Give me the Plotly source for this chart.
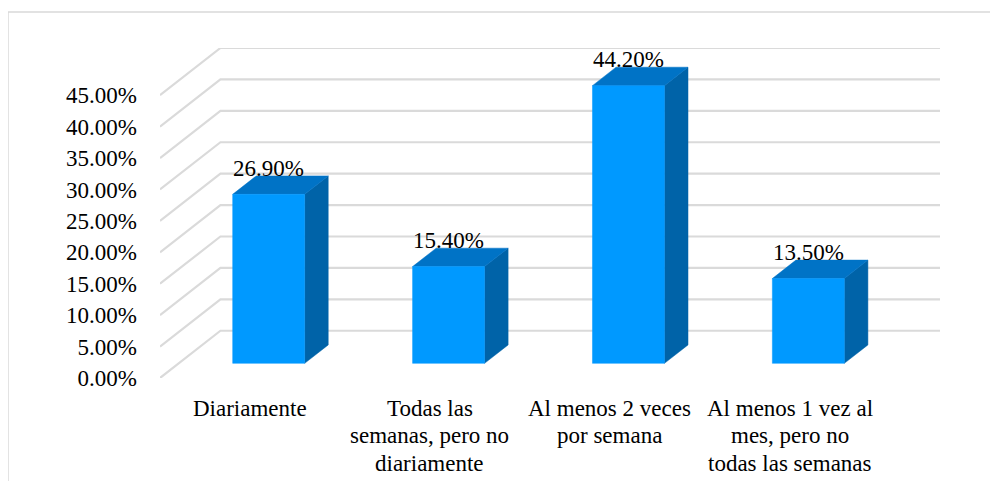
import plotly.graph_objects as go

# ---- data ----
category_lines = [
    ["Diariamente"],
    ["Todas las", "semanas, pero no", "diariamente"],
    ["Al menos 2 veces", "por semana"],
    ["Al menos 1 vez al", "mes, pero no", "todas las semanas"],
]
values = [26.9, 15.4, 44.2, 13.5]
value_labels = ["26.90%", "15.40%", "44.20%", "13.50%"]
y_ticks = [0, 5, 10, 15, 20, 25, 30, 35, 40, 45]
y_tick_labels = ["0.00%", "5.00%", "10.00%", "15.00%", "20.00%",
                 "25.00%", "30.00%", "35.00%", "40.00%", "45.00%"]

# ---- pseudo-3D geometry (data units) ----
DX = 0.336      # depth offset along x (category units)
DY = 7.52       # depth offset along y (percent units)
D0, D1 = 0.31, 0.70   # bar depth span
HALF_W = 0.20
X_MIN, X_MAX = -0.5, len(category_lines) - 0.5
Y_MAX = max(y_ticks)

FRONT = "#0099FF"
TOP = "#0073C6"
SIDE = "#0063A8"
GRID = "#DADADA"
FONT = "Liberation Serif"
FS = 23
LABEL_TOP = 30      # px below plot bottom to first category line centre
LINE_STEP = 27.5    # px between category label lines


def proj(x, y, d):
    return x + d * DX, y + d * DY


fig = go.Figure()

# gridlines (side wall diagonal + back wall)
gx, gy = [], []
for t in y_ticks:
    for (x, y, d) in [(X_MIN, t, 0), (X_MIN, t, 1), (X_MAX, t, 1)]:
        px, py = proj(x, y, d)
        gx.append(px)
        gy.append(py)
    gx.append(None)
    gy.append(None)
fig.add_trace(go.Scatter(x=gx, y=gy, mode="lines",
                         line=dict(color=GRID, width=2.2),
                         hoverinfo="skip", showlegend=False))


def face_trace(polys, color):
    xs, ys = [], []
    for poly in polys:
        for (x, y, d) in poly + [poly[0]]:
            px, py = proj(x, y, d)
            xs.append(px)
            ys.append(py)
        xs.append(None)
        ys.append(None)
    return go.Scatter(x=xs, y=ys, mode="lines", fill="toself",
                      fillcolor=color, line=dict(color=color, width=0.5),
                      hoverinfo="skip", showlegend=False)


fronts, tops, sides = [], [], []
for i, v in enumerate(values):
    xl, xr = i - HALF_W, i + HALF_W
    fronts.append([(xl, 0, D0), (xr, 0, D0), (xr, v, D0), (xl, v, D0)])
    tops.append([(xl, v, D0), (xr, v, D0), (xr, v, D1), (xl, v, D1)])
    sides.append([(xr, 0, D0), (xr, 0, D1), (xr, v, D1), (xr, v, D0)])

fig.add_trace(face_trace(sides, SIDE))
fig.add_trace(face_trace(tops, TOP))
fig.add_trace(face_trace(fronts, FRONT))

# value labels
for i, (v, lab) in enumerate(zip(values, value_labels)):
    lx, _ = proj(i, v, D0)
    _, ly = proj(i, v, D1)
    fig.add_annotation(x=lx, y=ly, xref="x", yref="y", text=lab,
                       showarrow=False, yanchor="bottom", xanchor="center",
                       yshift=-7, font=dict(family=FONT, size=FS, color="#000000"))

# category labels (one annotation per line for Excel-like line spacing)
for i, lines in enumerate(category_lines):
    for k, line in enumerate(lines):
        fig.add_annotation(x=i, y=0, xref="x", yref="paper", text=line,
                           showarrow=False, xanchor="center", yanchor="middle",
                           yshift=-(LABEL_TOP + k * LINE_STEP),
                           font=dict(family=FONT, size=FS, color="#000000"))

# chart border (left and top visible)
fig.add_shape(type="line", xref="paper", yref="paper",
              x0=-0.1949, x1=-0.1949, y0=-0.5, y1=1.109,
              line=dict(color="#D9D9D9", width=1.5))
fig.add_shape(type="line", xref="paper", yref="paper",
              x0=-0.1949, x1=1.2, y0=1.109, y1=1.109,
              line=dict(color="#D9D9D9", width=1.5))

# page body adds an 8px margin, so the figure is 16px smaller than the window
fig.update_layout(
    width=982, height=473,
    margin=dict(l=152, r=50, t=40, b=103),
    paper_bgcolor="white", plot_bgcolor="white",
    showlegend=False,
    font=dict(family=FONT, size=FS, color="#000000"),
    xaxis=dict(range=[X_MIN, X_MAX + DX], showgrid=False, zeroline=False,
               showline=False, showticklabels=False, automargin=False,
               fixedrange=True),
    yaxis=dict(range=[0, Y_MAX + DY], showgrid=False, zeroline=False,
               showline=False, tickmode="array", tickvals=y_ticks,
               ticktext=y_tick_labels, automargin=False,
               tickfont=dict(family=FONT, size=FS, color="#000000"),
               ticklabelstandoff=22, fixedrange=True),
)

fig.write_html("out.html")
